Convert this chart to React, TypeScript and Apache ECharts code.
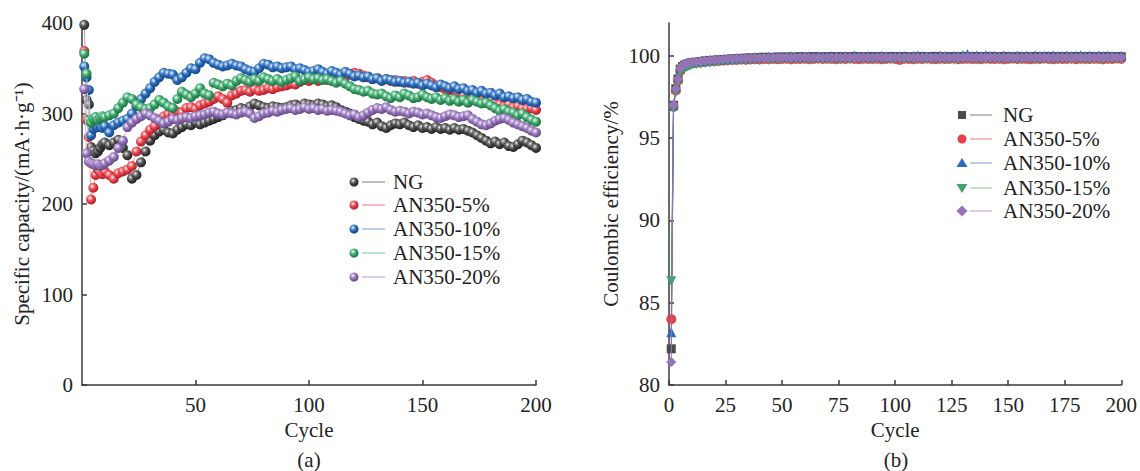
import { useEffect, useRef } from 'react';
import * as echarts from 'echarts';

// Cycle numbers shared by both panels
const cycles = [1, 2, 3, 4, 5, 6, 7, 8, 9, 10, 12, 14, 16, 18, 20, 22, 24, 26, 28, 30, 32, 34, 36, 38, 40, 42, 44, 46, 48, 50, 52, 54, 56, 58, 60, 62, 64, 66, 68, 70, 72, 74, 76, 78, 80, 82, 84, 86, 88, 90, 92, 94, 96, 98, 100, 102, 104, 106, 108, 110, 112, 114, 116, 118, 120, 122, 124, 126, 128, 130, 132, 134, 136, 138, 140, 142, 144, 146, 148, 150, 152, 154, 156, 158, 160, 162, 164, 166, 168, 170, 172, 174, 176, 178, 180, 182, 184, 186, 188, 190, 192, 194, 196, 198, 200];

// (a) specific capacity, mA·h·g⁻¹
const capNG = [398, 315, 310, 263, 259, 256, 258, 262, 266, 268,
  265, 268, 271, 262, 254, 228, 232, 246, 258, 270, 276, 280, 282, 279, 278,
  282, 285, 288, 287, 290, 288, 290, 292, 294, 296, 298, 301, 303, 304, 306,
  305, 308, 311, 309, 307, 306, 308, 307, 306, 307, 309, 310, 308, 311, 310,
  309, 311, 310, 308, 309, 307, 304, 302, 300, 296, 294, 292, 291, 288, 290,
  286, 284, 287, 289, 288, 290, 287, 285, 287, 284, 285, 283, 285, 283, 284,
  282, 284, 282, 283, 281, 279, 276, 273, 270, 267, 269, 266, 268, 264, 263,
  266, 270, 268, 265, 262];
const cap5 = [369, 293, 274, 205, 218, 232, 238, 235, 233, 236,
  232, 228, 234, 236, 238, 242, 258, 269, 276, 282, 286, 292, 297, 299, 300,
  302, 301, 306, 307, 305, 309, 311, 313, 316, 319, 316, 312, 320, 322, 325,
  326, 324, 327, 325, 326, 328, 327, 329, 330, 331, 333, 332, 335, 337, 336,
  338, 336, 339, 337, 338, 340, 338, 341, 343, 345, 344, 342, 340, 338, 339,
  337, 338, 336, 337, 335, 336, 334, 336, 333, 335, 337, 334, 331, 329, 327,
  326, 325, 322, 320, 318, 319, 316, 314, 312, 315, 312, 310, 308, 310, 307,
  308, 306, 305, 306, 304];
const cap10 = [352, 340, 326, 276, 283, 286, 285, 287, 284, 286,
  279, 287, 290, 292, 294, 300, 308, 316, 322, 328, 335, 340, 345, 344, 343,
  337, 340, 345, 350, 349, 356, 361, 360, 356, 354, 352, 353, 355, 353, 352,
  349, 347, 346, 350, 355, 354, 351, 352, 350, 351, 352, 349, 350, 348, 346,
  347, 349, 346, 344, 347, 345, 343, 346, 344, 341, 342, 340, 341, 338, 339,
  336, 338, 337, 335, 336, 334, 335, 333, 334, 331, 333, 331, 329, 332, 330,
  328, 330, 327, 328, 325, 326, 323, 325, 322, 323, 320, 322, 318, 319, 317,
  318, 315, 316, 313, 312];
const cap15 = [366, 344, 292, 290, 294, 296, 293, 295, 297, 296,
  298, 300, 306, 312, 318, 316, 310, 307, 305, 306, 310, 315, 312, 308, 306,
  316, 324, 321, 318, 322, 328, 322, 320, 334, 332, 330, 333, 331, 336, 339,
  337, 335, 338, 336, 340, 338, 336, 338, 335, 337, 339, 341, 336, 338, 340,
  338, 339, 337, 338, 336, 334, 336, 333, 330, 327, 326, 324, 325, 322, 321,
  322, 319, 317, 320, 318, 322, 320, 317, 318, 321, 318, 316, 318, 315, 317,
  314, 316, 313, 315, 312, 315, 313, 311, 312, 309, 306, 303, 305, 302, 301,
  298, 300, 296, 293, 291];
const cap20 = [327, 256, 247, 245, 244, 243, 244, 242, 243, 245,
  248, 252, 262, 270, 285, 290, 294, 297, 300, 298, 295, 292, 289, 291, 294,
  293, 295, 296, 295, 297, 298, 299, 301, 302, 300, 299, 301, 300, 299, 301,
  302, 300, 295, 297, 300, 301, 303, 302, 304, 305, 306, 304, 305, 307, 305,
  306, 304, 305, 303, 304, 303, 302, 300, 298, 299, 296, 298, 301, 304, 306,
  305, 307, 304, 302, 303, 302, 300, 302, 301, 299, 300, 298, 296, 295, 297,
  299, 298, 296, 297, 298, 294, 291, 288, 287, 289, 292, 294, 295, 293, 290,
  288, 286, 284, 281, 279];

// (b) coulombic efficiency, %
const ceNG = [82.2, 97.0, 98.0, 98.6, 99.2, 99.35, 99.45, 99.5, 99.55, 99.6,
  99.62, 99.66, 99.7, 99.72, 99.74, 99.76, 99.78, 99.8, 99.82, 99.83,
  99.85, 99.86, 99.88, 99.87, 99.9, 99.92, 99.9, 99.91, 99.93, 99.92,
  99.94, 99.92, 99.93, 99.95, 99.94, 99.92, 99.96, 99.94, 99.93, 99.95,
  99.94, 99.96, 99.93, 99.95, 99.94, 99.96, 99.95, 99.93, 99.95, 99.96,
  99.94, 99.95, 99.93, 99.96, 99.95, 99.94, 99.96, 99.95, 99.93, 99.95,
  99.96, 99.94, 99.95, 99.97, 99.94, 99.95, 99.96, 99.94, 99.95, 99.96,
  99.95, 99.93, 99.96, 99.94, 99.95, 99.97, 99.95, 99.94, 99.96, 99.95,
  99.94, 99.96, 99.95, 99.93, 99.95, 99.96, 99.94, 99.95, 99.97, 99.95,
  99.94, 99.96, 99.95, 99.93, 99.96, 99.95, 99.94, 99.96, 99.95, 99.94,
  99.96, 99.95, 99.94, 99.96, 99.95];
const ce5 = [84.0, 96.9, 97.9, 98.5, 99.1, 99.3, 99.4, 99.45, 99.5, 99.55,
  99.58, 99.6, 99.63, 99.66, 99.68, 99.7, 99.72, 99.74, 99.75, 99.76,
  99.78, 99.77, 99.79, 99.8, 99.78, 99.81, 99.8, 99.82, 99.8, 99.81,
  99.83, 99.8, 99.82, 99.81, 99.83, 99.8, 99.82, 99.84, 99.81, 99.83,
  99.82, 99.8, 99.83, 99.81, 99.84, 99.82, 99.8, 99.83, 99.82, 99.81,
  99.83, 99.8, 99.82, 99.84, 99.81, 99.76, 99.83, 99.82, 99.8, 99.83,
  99.81, 99.84, 99.82, 99.8, 99.83, 99.81, 99.82, 99.84, 99.8, 99.82,
  99.83, 99.81, 99.82, 99.8, 99.84, 99.82, 99.81, 99.83, 99.8, 99.82,
  99.84, 99.81, 99.83, 99.82, 99.8, 99.83, 99.81, 99.84, 99.82, 99.8,
  99.83, 99.81, 99.82, 99.84, 99.8, 99.83, 99.82, 99.81, 99.83, 99.82,
  99.8, 99.83, 99.81, 99.84, 99.82];
const ce10 = [83.2, 97.0, 98.1, 98.7, 99.25, 99.4, 99.5, 99.55, 99.6, 99.62,
  99.65, 99.68, 99.72, 99.74, 99.77, 99.79, 99.8, 99.83, 99.85, 99.86,
  99.88, 99.9, 99.91, 99.93, 99.92, 99.94, 99.96, 99.93, 99.95, 99.97,
  99.95, 99.98, 99.96, 99.94, 99.97, 99.99, 99.96, 99.98, 99.95, 99.97,
  100.0, 99.97, 99.96, 99.99, 99.97, 100.02, 99.98, 99.96, 99.99, 99.97,
  99.98, 100.01, 99.97, 99.99, 99.96, 99.98, 100.0, 99.97, 99.99, 100.02,
  99.98, 99.97, 100.0, 99.98, 100.03, 99.99, 99.97, 100.01, 99.98, 100.06,
  100.12, 99.99, 100.02, 99.98, 100.04, 99.99, 100.01, 99.97, 100.03, 100.0,
  99.98, 100.02, 99.99, 100.01, 99.97, 100.03, 99.99, 100.01, 99.98, 100.02,
  100.0, 99.98, 100.03, 99.99, 100.01, 100.04, 99.98, 100.02, 100.0, 100.03,
  99.99, 100.02, 100.0, 99.98, 100.01];
const ce15 = [86.3, 96.8, 97.8, 98.4, 99.05, 99.2, 99.3, 99.36, 99.4, 99.45,
  99.5, 99.53, 99.57, 99.6, 99.63, 99.65, 99.67, 99.69, 99.7, 99.72,
  99.73, 99.74, 99.75, 99.77, 99.76, 99.78, 99.77, 99.79, 99.78, 99.8,
  99.79, 99.78, 99.8, 99.79, 99.81, 99.78, 99.8, 99.79, 99.78, 99.8,
  99.79, 99.81, 99.78, 99.8, 99.79, 99.78, 99.81, 99.8, 99.79, 99.78,
  99.8, 99.79, 99.81, 99.78, 99.8, 99.79, 99.78, 99.81, 99.8, 99.79,
  99.78, 99.8, 99.79, 99.81, 99.78, 99.8, 99.79, 99.77, 99.8, 99.79,
  99.81, 99.78, 99.8, 99.79, 99.78, 99.81, 99.8, 99.79, 99.78, 99.8,
  99.79, 99.81, 99.78, 99.8, 99.79, 99.78, 99.8, 99.81, 99.79, 99.78,
  99.8, 99.79, 99.81, 99.78, 99.8, 99.79, 99.78, 99.81, 99.8, 99.79,
  99.78, 99.8, 99.79, 99.81, 99.8];
const ce20 = [81.4, 97.05, 98.0, 98.6, 99.25, 99.4, 99.5, 99.55, 99.58, 99.62,
  99.65, 99.68, 99.72, 99.74, 99.76, 99.78, 99.8, 99.82, 99.83, 99.84,
  99.85, 99.86, 99.87, 99.88, 99.87, 99.89, 99.88, 99.9, 99.89, 99.91,
  99.9, 99.89, 99.91, 99.9, 99.92, 99.89, 99.91, 99.9, 99.89, 99.91,
  99.9, 99.92, 99.89, 99.91, 99.9, 99.89, 99.92, 99.9, 99.91, 99.89,
  99.91, 99.9, 99.92, 99.89, 99.91, 99.9, 99.89, 99.92, 99.9, 99.91,
  99.9, 99.92, 99.89, 99.91, 99.9, 99.92, 99.89, 99.9, 99.91, 99.9,
  99.92, 99.89, 99.91, 99.9, 99.89, 99.92, 99.9, 99.91, 99.89, 99.91,
  99.9, 99.92, 99.89, 99.91, 99.9, 99.89, 99.92, 99.9, 99.91, 99.89,
  99.91, 99.9, 99.92, 99.89, 99.91, 99.9, 99.89, 99.92, 99.9, 99.91,
  99.9, 99.89, 99.92, 99.9, 99.91];

const seriesNames = ['NG', 'AN350-5%', 'AN350-10%', 'AN350-15%', 'AN350-20%'];
const capValues = [capNG, cap5, cap10, cap15, cap20];
const ceValues = [ceNG, ce5, ce10, ce15, ce20];

const markColors = ['#4b4b4b', '#e6414a', '#2a6cba', '#3ba46b', '#9474b7'];
const lightColors = ['#9a9a9a', '#f59ca1', '#8db6e6', '#93d8b0', '#c9b4e0'];
const darkColors = ['#232323', '#b0222b', '#17498a', '#1f7344', '#664a8c'];
const lineColors = ['#a8a8a8', '#f4a7ab', '#a2bfe2', '#a6d8bb', '#cdbde0'];
const ceSymbols = ['rect', 'circle', 'triangle', 'triangle', 'diamond'];
const ceRotations = [0, 0, 0, 180, 0];

const FONT = '"Liberation Serif", "Times New Roman", serif';
const FONT_SIZE = 21;
const TEXT = '#222222';
const AXIS = '#3a3a3a';

const sphere = (i: number) => ({
  type: 'radial',
  x: 0.38,
  y: 0.35,
  r: 0.62,
  colorStops: [
    { offset: 0, color: '#ffffff' },
    { offset: 0.22, color: lightColors[i] },
    { offset: 0.55, color: markColors[i] },
    { offset: 1, color: darkColors[i] },
  ],
});

const axisCommon = {
  axisLine: { show: true, onZero: false, lineStyle: { color: AXIS, width: 1.5 } },
  axisTick: { show: true, inside: true, length: 5, lineStyle: { color: AXIS, width: 1.5 } },
  splitLine: { show: false },
  axisLabel: { color: TEXT, fontFamily: FONT, fontSize: FONT_SIZE, margin: 9 },
  nameTextStyle: { color: TEXT, fontFamily: FONT, fontSize: FONT_SIZE },
};

function buildLegend(
  rows: number[],
  lineX1: number,
  lineX2: number,
  textX: number,
  drawSymbol: (i: number, cy: number) => any,
) {
  const items: any[] = [];
  seriesNames.forEach((name, i) => {
    const cy = rows[i];
    items.push({
      type: 'line',
      shape: { x1: lineX1, y1: cy, x2: lineX2, y2: cy },
      style: { stroke: lineColors[i], lineWidth: 1.5 },
    });
    items.push(drawSymbol(i, cy));
    items.push({
      type: 'text',
      x: textX,
      y: cy,
      style: { text: name, font: `${FONT_SIZE}px ${FONT}`, fill: TEXT, verticalAlign: 'middle', align: 'left' },
    });
  });
  return items;
}

function ceLegendSymbol(i: number, cy: number, cx: number) {
  const fill = markColors[i];
  if (i === 0) return { type: 'rect', shape: { x: cx - 4, y: cy - 4, width: 8, height: 8 }, style: { fill } };
  if (i === 1) return { type: 'circle', shape: { cx, cy, r: 4.5 }, style: { fill } };
  if (i === 2)
    return { type: 'polygon', shape: { points: [[cx, cy - 5], [cx + 5.5, cy + 4], [cx - 5.5, cy + 4]] }, style: { fill } };
  if (i === 3)
    return { type: 'polygon', shape: { points: [[cx - 5.5, cy - 4], [cx + 5.5, cy - 4], [cx, cy + 5]] }, style: { fill } };
  return { type: 'polygon', shape: { points: [[cx, cy - 5.5], [cx + 5.5, cy], [cx, cy + 5.5], [cx - 5.5, cy]] }, style: { fill } };
}

export default function App() {
  const ref = useRef<HTMLDivElement>(null);

  useEffect(() => {
    if (!ref.current) return;
    const chart = echarts.init(ref.current, null, { renderer: 'svg' });

    const capSeries = seriesNames.map((name, i) => ({
      name: name,
      type: 'line',
      xAxisIndex: 0,
      yAxisIndex: 0,
      data: cycles.map((c, k) => [c, capValues[i][k]]),
      symbol: 'circle',
      symbolSize: 10,
      showAllSymbol: true,
      itemStyle: { color: sphere(i) },
      lineStyle: { color: lineColors[i], width: 1 },
      z: 2 + i,
    }));

    const ceSeries = seriesNames.map((name, i) => ({
      name: name + ' ',
      type: 'line',
      xAxisIndex: 1,
      yAxisIndex: 1,
      data: cycles.map((c, k) => [c, ceValues[i][k]]),
      symbol: ceSymbols[i],
      symbolRotate: ceRotations[i],
      symbolSize: i === 0 ? 9 : 10,
      showAllSymbol: true,
      itemStyle: { color: markColors[i] },
      lineStyle: { color: markColors[i], width: 1 },
      z: 2 + i,
    }));

    const legendA = buildLegend([182, 205, 229, 253, 277], 362, 385, 393, (i, cy) => ({
      type: 'circle',
      shape: { cx: 354, cy, r: 4.5 },
      style: { fill: sphere(i) },
    }));
    const legendB = buildLegend([115, 139, 163, 188, 211], 970, 992, 1003, (i, cy) =>
      ceLegendSymbol(i, cy, 962),
    );

    chart.setOption({
      animation: false,
      backgroundColor: '#ffffff',
      grid: [
        { left: 82, top: 23, width: 454, height: 362, containLabel: false },
        { left: 669, top: 23, width: 454, height: 362, containLabel: false },
      ],
      xAxis: [
        {
          ...axisCommon,
          type: 'value',
          gridIndex: 0,
          min: 0,
          max: 200,
          interval: 50,
          name: 'Cycle',
          nameLocation: 'middle',
          nameGap: 34,
          axisTick: { ...axisCommon.axisTick, customValues: [50, 100, 150, 200] },
          axisLabel: { ...axisCommon.axisLabel, customValues: [50, 100, 150, 200] },
        },
        {
          ...axisCommon,
          type: 'value',
          gridIndex: 1,
          min: 0,
          max: 200,
          interval: 25,
          name: 'Cycle',
          nameLocation: 'middle',
          nameGap: 34,
        },
      ],
      yAxis: [
        {
          ...axisCommon,
          type: 'value',
          gridIndex: 0,
          min: 0,
          max: 400,
          interval: 100,
          name: 'Specific capacity/(mA·h·g⁻¹)',
          nameLocation: 'middle',
          nameGap: 50,
        },
        {
          ...axisCommon,
          type: 'value',
          gridIndex: 1,
          min: 80,
          max: 102,
          interval: 5,
          name: 'Coulombic efficiency/%',
          nameLocation: 'middle',
          nameGap: 48,
          axisTick: { ...axisCommon.axisTick, customValues: [80, 85, 90, 95, 100] },
          axisLabel: { ...axisCommon.axisLabel, customValues: [80, 85, 90, 95, 100] },
        },
      ],
      series: [...capSeries, ...ceSeries],
      graphic: [
        ...legendA,
        ...legendB,
        {
          type: 'text',
          x: 309,
          y: 460,
          style: { text: '(a)', font: `${FONT_SIZE}px ${FONT}`, fill: TEXT, align: 'center', verticalAlign: 'middle' },
        },
        {
          type: 'text',
          x: 896,
          y: 460,
          style: { text: '(b)', font: `${FONT_SIZE}px ${FONT}`, fill: TEXT, align: 'center', verticalAlign: 'middle' },
        },
      ],
    });

    return () => chart.dispose();
  }, []);

  return (
    <div
      ref={ref}
      style={{ position: 'fixed', left: 0, top: 0, width: '1140px', height: '471px', background: '#fff' }}
    />
  );
}
